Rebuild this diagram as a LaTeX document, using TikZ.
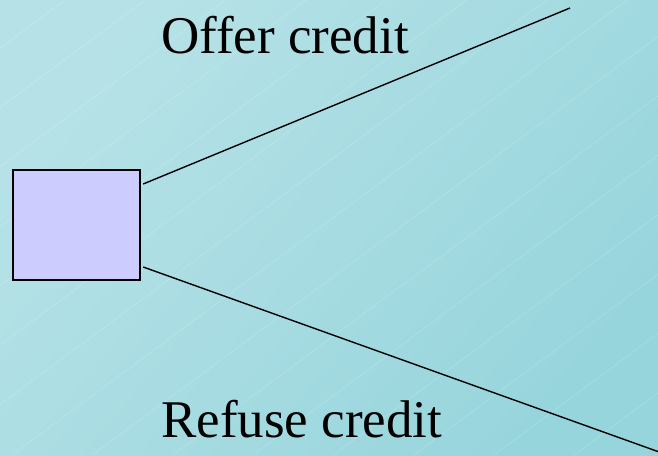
\documentclass[tikz,border=0pt]{standalone}
\usepackage{fontspec}
\setmainfont{Liberation Serif}
\definecolor{bgtl}{HTML}{B6E2E7}
\definecolor{bgbr}{HTML}{97D5DC}
\definecolor{boxfill}{HTML}{CCCCFF}
\tikzset{
  choicebox/.style={draw=black, line width=1.4pt, fill=boxfill, minimum width=127pt, minimum height=110pt, inner sep=0pt},
  branch/.style={draw=black, line width=1.4pt},
  branchlabel/.style={anchor=base west, inner sep=0pt, font=\fontsize{53}{60}\selectfont},
  sheen/.style={draw=white, opacity=0.22, line width=0.5pt}
}
\begin{document}
\begin{tikzpicture}[x=1pt,y=-1pt]
\useasboundingbox (0,0) rectangle (658,455);
\shade[top color=bgtl, bottom color=bgbr, shading angle=50] (0,0) rectangle (658,455);
\begin{scope}
\clip (0,0) rectangle (658,455);
\foreach \k in {0,...,16} {
  \draw[sheen] (65+80.3*\k,0) -- ++(-615,455);
}
\end{scope}
\node[choicebox] (box) at (76.5,225) {};
\coordinate (offerend) at (570,8);
\coordinate (refuseend) at (662,453);
\draw[branch] ([xshift=2.5pt,yshift=41pt]box.east) -- (offerend);
\draw[branch] ([xshift=2.5pt,yshift=-42pt]box.east) -- (refuseend);
\node[branchlabel] (offer) at (161,53) {Offer credit};
\node[branchlabel] (refuse) at (161,437) {Refuse credit};
\end{tikzpicture}
\end{document}
